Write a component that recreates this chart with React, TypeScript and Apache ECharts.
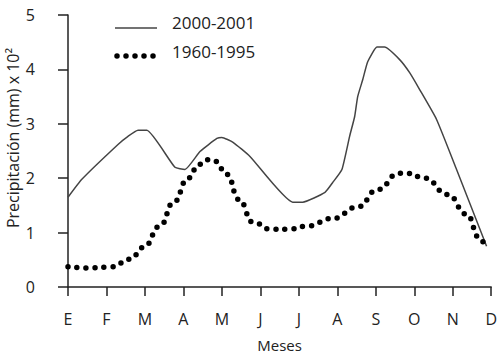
import React, { useEffect, useRef } from "react";
import * as echarts from "echarts";

const monthLabels = ["E", "F", "M", "A", "M", "J", "J", "A", "S", "O", "N", "D"];
const yTicks = [0, 1, 2, 3, 4, 5];
const seriesNames = ["2000-2001", "1960-1995"];

// positions along the month axis (0 = E ... 11 = D) and values (mm x 10^2)
const recentMonths = [0, 0.36, 1.3, 1.56, 1.82, 2.05, 2.78, 3.04, 3.43, 3.87, 4.0, 4.29, 4.73, 5.84, 6.1, 6.68, 6.88, 7.12, 7.32, 7.45, 7.53, 7.66, 7.79, 8.03, 8.23, 8.62, 8.88, 9.14, 9.58, 10.1, 10.88];
const recentValues = [1.65, 1.98, 2.62, 2.77, 2.88, 2.88, 2.2, 2.16, 2.49, 2.73, 2.75, 2.66, 2.4, 1.56, 1.56, 1.74, 1.92, 2.16, 2.77, 3.13, 3.5, 3.81, 4.14, 4.41, 4.41, 4.18, 3.94, 3.63, 3.08, 2.16, 0.75];

const histMonths = [0, 0.57, 1.14, 1.61, 1.97, 2.39, 2.75, 3.12, 3.4, 3.61, 3.82, 4.13, 4.44, 4.81, 5.27, 5.74, 6.21, 6.88, 7.53, 8.05, 8.6, 8.83, 9.27, 9.87, 10.36, 10.7, 10.83];
const histValues = [0.37, 0.35, 0.37, 0.51, 0.73, 1.12, 1.56, 2.0, 2.25, 2.34, 2.31, 2.07, 1.61, 1.19, 1.06, 1.06, 1.12, 1.26, 1.47, 1.79, 2.09, 2.09, 2.0, 1.7, 1.34, 0.9, 0.75];

const FONT = "Open Sans";
const TEXT = "#222";

export default function App() {
  const ref = useRef<HTMLDivElement>(null);
  useEffect(() => {
    if (!ref.current) return;
    const chart = echarts.init(ref.current, null, { renderer: "svg" });
    chart.setOption({
      animation: false,
      backgroundColor: "#fff",
      grid: { left: 68, right: 8, top: 15, bottom: 69 },
      xAxis: {
        type: "value",
        min: 0,
        max: 11,
        interval: 1,
        name: "Meses",
        nameLocation: "middle",
        nameGap: 50,
        nameTextStyle: { fontFamily: FONT, fontSize: 15, color: TEXT },
        axisLine: { show: true, lineStyle: { color: "#222", width: 1.5 } },
        axisTick: { show: true, length: 9, lineStyle: { color: "#222", width: 1.5 } },
        splitLine: { show: false },
        axisLabel: {
          margin: 24,
          fontFamily: FONT,
          fontSize: 16,
          color: TEXT,
          formatter: (v: number) => monthLabels[Math.round(v)] ?? "",
        },
      },
      yAxis: {
        type: "value",
        min: yTicks[0],
        max: yTicks[yTicks.length - 1],
        interval: 1,
        axisLine: { show: true, lineStyle: { color: "#222", width: 1.5 } },
        axisTick: { show: true, length: 10, lineStyle: { color: "#222", width: 1.5 } },
        splitLine: { show: false },
        axisLabel: { margin: 33, fontFamily: FONT, fontSize: 16, color: TEXT },
      },
      series: [
        {
          name: seriesNames[0],
          type: "line",
          data: recentMonths.map((m, i) => [m, recentValues[i]]),
          smooth: 0.15,
          showSymbol: false,
          lineStyle: { color: "#444", width: 1.5 },
        },
        {
          name: seriesNames[1],
          type: "line",
          data: histMonths.map((m, i) => [m, histValues[i]]),
          smooth: 0.5,
          smoothMonotone: "x",
          showSymbol: false,
          lineStyle: { color: "#000", width: 5.5, type: [0, 9], cap: "round" },
        },
      ],
      graphic: [
        {
          type: "line",
          shape: { x1: 115, y1: 28, x2: 157, y2: 28 },
          style: { stroke: "#444", lineWidth: 1.5 },
        },
        {
          type: "text",
          x: 172,
          y: 22,
          style: { text: seriesNames[0], fontFamily: FONT, fontSize: 17, fill: TEXT, verticalAlign: "middle" },
        },
        {
          type: "line",
          shape: { x1: 117, y1: 56, x2: 157, y2: 56 },
          style: { stroke: "#000", lineWidth: 5.5, lineDash: [0, 9], lineCap: "round" },
        },
        {
          type: "text",
          x: 172,
          y: 51,
          style: { text: seriesNames[1], fontFamily: FONT, fontSize: 17, fill: TEXT, verticalAlign: "middle" },
        },
        {
          type: "text",
          x: 13,
          y: 138,
          rotation: Math.PI / 2,
          style: {
            text: "Precipitación (mm) x 10²",
            fontFamily: FONT,
            fontSize: 16,
            fill: TEXT,
            align: "center",
            verticalAlign: "middle",
          },
        },
      ],
    });
    return () => chart.dispose();
  }, []);
  return <div ref={ref} style={{ width: 500, height: 357, position: "absolute", left: 0, top: 0 }} />;
}
